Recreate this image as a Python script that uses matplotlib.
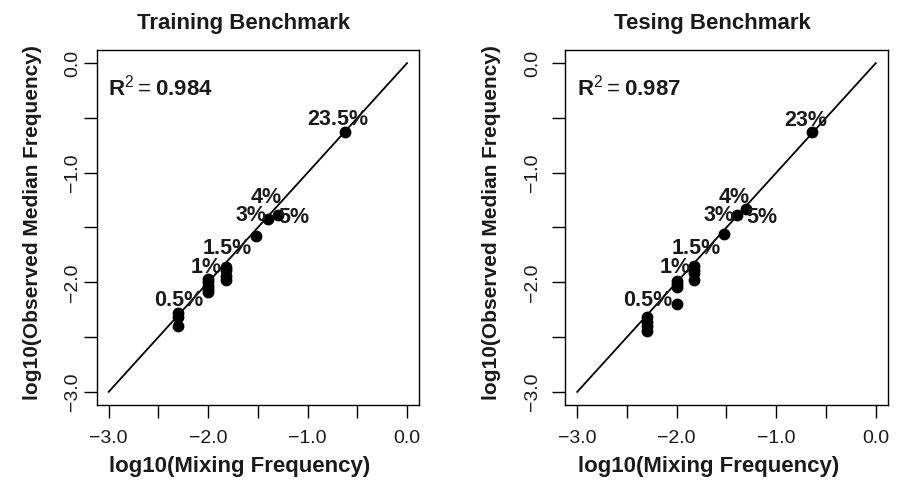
import numpy as np
import matplotlib
matplotlib.use('Agg')
import matplotlib.pyplot as plt

plt.rcParams['font.family'] = ['Liberation Sans', 'DejaVu Sans']
plt.rcParams['mathtext.fontset'] = 'custom'
plt.rcParams['mathtext.rm'] = 'Liberation Sans'
plt.rcParams['mathtext.bf'] = 'Liberation Sans:bold'

# mixing frequencies (%) and observed log10 median frequencies per group
train_pct = [0.5, 1, 1.5, 3, 4, 5, 23.5]
train_obs = [[-2.28, -2.32, -2.40],
             [-1.97, -2.00, -2.03, -2.06, -2.09],
             [-1.86, -1.89, -1.94, -1.98],
             [-1.58],
             [-1.42],
             [-1.39],
             [-0.63]]
train_r2 = '0.984'

test_pct = [0.5, 1, 1.5, 3, 4, 5, 23]
test_obs = [[-2.32, -2.36, -2.40, -2.445],
            [-1.99, -2.02, -2.04, -2.20],
            [-1.855, -1.89, -1.915, -1.98],
            [-1.557],
            [-1.39],
            [-1.33],
            [-0.627]]
test_r2 = '0.987'

tick_vals = [-3.0, -2.5, -2.0, -1.5, -1.0, -0.5, 0.0]
tick_labels = ['\u22123.0', '', '\u22122.0', '', '\u22121.0', '', '0.0']

# label offsets in pixels from the diagonal point (same order as pct lists)
label_off = [(1, 9.5), (-2, 9.5), (2, 8.5), (-5, 9), (-2, 13), (16, -17), (-6.5, 7.5)]

fig = plt.figure(figsize=(8.98, 4.93), dpi=100)

panels = [
    ([0.1077, 0.1785, 0.3589, 0.7201], 'Training Benchmark', train_pct, train_obs, train_r2, 2.0, -0.181),
    ([0.6295, 0.1785, 0.3590, 0.7201], 'Tesing Benchmark', test_pct, test_obs, test_r2, 8.0, -0.212),
]

for rect, title, pct, obs, r2, ypad, ylab_x in panels:
    ax = fig.add_axes(rect)
    ax.set_xlim(-3.12, 0.12)
    ax.set_ylim(-3.12, 0.12)

    ax.plot([-3, 0], [-3, 0], color='black', lw=1.3)
    for p, ys in zip(pct, obs):
        x = np.log10(p / 100.0)
        ax.plot([x] * len(ys), ys, 'o', color='black', ms=7.5, mec='black')

    for p, off in zip(pct, label_off):
        x = np.log10(p / 100.0)
        lab = ('%g' % p) + '%'
        ax.annotate(lab, xy=(x, x), xytext=off, textcoords='offset pixels',
                    ha='center', va='baseline', fontsize=15.5, fontweight='bold',
                    color='#1a1a1a')

    ax.text(0.035, 0.871, r'$\mathbf{R}^{2}=\mathbf{' + r2 + '}$', transform=ax.transAxes,
            ha='left', va='baseline', fontsize=16, color='#1a1a1a')

    ax.set_xticks(tick_vals)
    ax.set_xticklabels(tick_labels)
    ax.set_yticks(tick_vals)
    ax.set_yticklabels(tick_labels)
    ax.tick_params(direction='out', length=9.4, width=1.0, labelsize=14, color='black',
                   labelcolor='#1a1a1a')
    ax.tick_params(axis='x', pad=8.5)
    ax.tick_params(axis='y', pad=ypad, labelrotation=90)
    for lbl in ax.get_yticklabels():
        lbl.set_va('center')
        lbl.set_ha('right')
    for s in ax.spines.values():
        s.set_linewidth(1.0)

    ax.text(0.456, 1.059, title, transform=ax.transAxes, ha='center', va='baseline',
            fontsize=16, fontweight='bold', color='#1a1a1a')

    ax.set_xlabel('log10(Mixing Frequency)', fontsize=16, fontweight='bold', color='#1a1a1a')
    ax.xaxis.set_label_coords(0.444, -0.189)
    ax.xaxis.label.set_va('baseline')
    ax.set_ylabel('log10(Observed Median Frequency)', fontsize=15, fontweight='bold',
                  color='#1a1a1a')
    ax.yaxis.set_label_coords(ylab_x, 0.513)
    ax.yaxis.label.set_va('baseline')

fig.savefig('out.png', dpi=100)
